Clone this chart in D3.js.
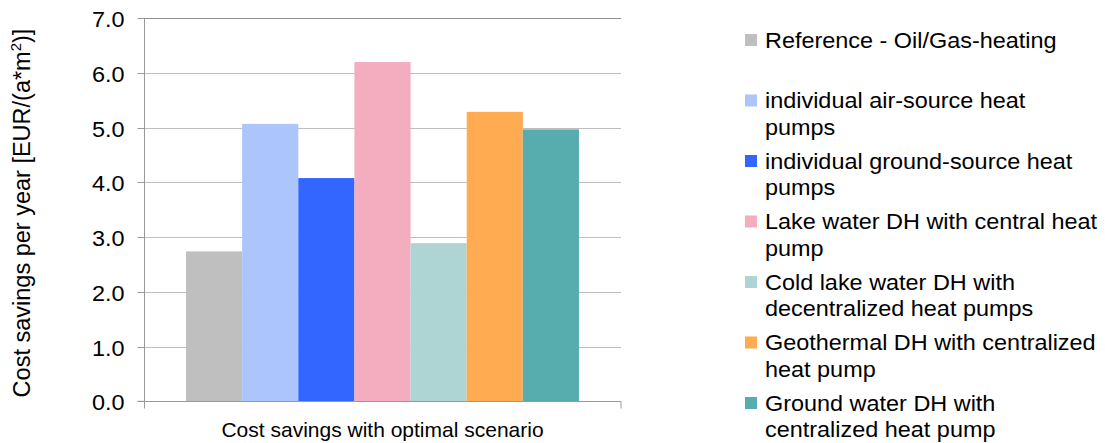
<!DOCTYPE html>
<html><head><meta charset="utf-8">
<script src="https://cdn.jsdelivr.net/npm/d3@7"></script>
<style>
html,body{margin:0;padding:0;background:#fff;}
svg{display:block;font-family:"Liberation Sans",Arial,sans-serif;}
</style></head>
<body><svg id="c" width="1105" height="443"></svg>
<script>
const categories = ["Cost savings with optimal scenario"];
const seriesNames = [
  "Reference - Oil/Gas-heating",
  "individual air-source heat pumps",
  "individual ground-source heat pumps",
  "Lake water DH with central heat pump",
  "Cold lake water DH with decentralized heat pumps",
  "Geothermal DH with centralized heat pump",
  "Ground water DH with centralized heat pump"
];
const legendLines = [
  ["Reference - Oil/Gas-heating"],
  ["individual air-source heat", "pumps"],
  ["individual ground-source heat", "pumps"],
  ["Lake water DH with central heat", "pump"],
  ["Cold lake water DH with", "decentralized heat pumps"],
  ["Geothermal DH with centralized", "heat pump"],
  ["Ground water DH with", "centralized heat pump"]
];
const values = [2.74, 5.07, 4.08, 6.20, 2.89, 5.29, 4.97];
const colors = ["#BFBFBF", "#ADC5FD", "#3366FF", "#F3ADBF", "#AED5D4", "#FFAB52", "#57ADAD"];
const yTicks = [0, 1, 2, 3, 4, 5, 6, 7];

const svg = d3.select("#c");
const L = 144, R = 621, T = 18.3, B = 401.3;
const SX = 1.065; // horizontal stretch of the text
const y = d3.scaleLinear().domain([0, 7]).range([B, T]);
const x0 = d3.scaleBand().domain(categories).range([L, R]).paddingInner(0).paddingOuter(0.107);
const x1 = d3.scaleBand().domain(seriesNames).range([0, x0.bandwidth()]).padding(0);

// gridlines
svg.append("g").selectAll("line").data(yTicks.filter(d => d > 0)).join("line")
  .attr("x1", L).attr("x2", R)
  .attr("y1", d => Math.round(y(d)) + 0.5).attr("y2", d => Math.round(y(d)) + 0.5)
  .attr("stroke", d => d === 7 ? "#8f8f8f" : "#BEBEBE").attr("stroke-width", 1);

// bars
svg.append("g").selectAll("rect").data(values).join("rect")
  .attr("x", (d, i) => x0(categories[0]) + x1(seriesNames[i]))
  .attr("width", x1.bandwidth())
  .attr("y", d => y(d))
  .attr("height", d => y(0) - y(d))
  .attr("fill", (d, i) => colors[i]);

// y axis
const yAxis = d3.axisLeft(y).tickValues(yTicks).tickFormat(d3.format(".1f")).tickSize(7).tickPadding(13);
const gy = svg.append("g").attr("transform", `translate(${L + 0.5},0)`).call(yAxis);
gy.select(".domain").attr("stroke", "#999").attr("d", `M-7,${B}H0V${T}`);
gy.selectAll(".tick line").attr("stroke", "#999");
gy.selectAll(".tick").attr("transform", d => `translate(0,${Math.round(y(d)) + 0.5})`);
gy.selectAll("text").attr("font-size", 22).attr("fill", "#000")
  .attr("font-family", "Liberation Sans, Arial, sans-serif")
  .attr("x", -20 / SX).attr("dy", "0.4em")
  .attr("transform", `scale(${SX},1)`);

// x axis
const xAxis = d3.axisBottom(x0).tickSize(0).tickFormat(d => d);
const gx = svg.append("g").attr("transform", `translate(0,${Math.round(B) + 0.5})`).call(xAxis);
gx.select(".domain").attr("stroke", "#999").attr("d", `M${L + 0.5},7V0H${R}V7`);
gx.selectAll("text").attr("font-size", 21).attr("fill", "#000").attr("dy", 0).attr("y", 35)
  .attr("font-family", "Liberation Sans, Arial, sans-serif");

// y title
const yt = svg.append("text")
  .attr("transform", `translate(30,213) rotate(-90)`)
  .attr("text-anchor", "middle").attr("font-size", 23.5).attr("fill", "#000");
yt.append("tspan").text("Cost savings per year [EUR/(a*m");
yt.append("tspan").text("2").attr("font-size", 15).attr("dy", -9);
yt.append("tspan").text(")]").attr("font-size", 23.5).attr("dy", 9);

// legend
const legY = d3.scaleLinear().domain([0, 6]).range([40, 403]);
const lg = svg.append("g").selectAll("g").data(seriesNames).join("g")
  .attr("transform", (d, i) => `translate(745,${legY(i)})`);
lg.append("rect").attr("x", 0).attr("y", -6).attr("width", 12).attr("height", 12)
  .attr("fill", (d, i) => colors[i]);
lg.each(function(d, i) {
  const t = d3.select(this).append("text")
    .attr("transform", `scale(${SX},1)`)
    .attr("y", 7.5).attr("font-size", 22).attr("fill", "#000");
  legendLines[i].forEach((ln, j) => {
    t.append("tspan").attr("x", 20 / SX).attr("dy", j === 0 ? 0 : 27).text(ln);
  });
});
</script></body></html>
